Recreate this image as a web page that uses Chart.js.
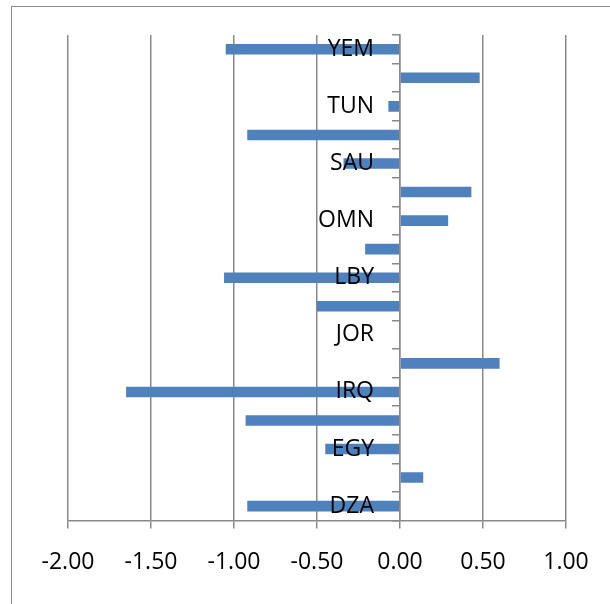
<!DOCTYPE html>
<html>
<head>
<meta charset="utf-8">
<script src="https://cdn.jsdelivr.net/npm/chart.js@4/dist/chart.umd.min.js"></script>
<style>
  html, body { margin: 0; padding: 0; background: #fff; }
  #wrap { position: relative; width: 610px; height: 604px; overflow: hidden; }
  #frame { position: absolute; left: 11px; top: 6px; width: 620px; height: 620px;
           border-left: 1.5px solid #8a8a8a; border-top: 1.5px solid #8a8a8a; }
  canvas { position: absolute; left: 0; top: 0; }
</style>
</head>
<body>
<div id="wrap">
  <div id="frame"></div>
  <canvas id="chart" width="610" height="604"></canvas>
</div>
<script>
// Country codes, listed bottom to top
const countries = ["DZA", "DJI", "EGY", "IRN", "IRQ", "ISR", "JOR", "KWT", "LBY",
                   "MAR", "OMN", "QAT", "SAU", "SYR", "TUN", "UAE", "YEM"];
const values = [-0.92, 0.14, -0.45, -0.93, -1.65, 0.60, 0.00, -0.50, -1.06,
                -0.21, 0.29, 0.43, -0.34, -0.92, -0.07, 0.48, -1.05];
const xTickValues = [-2.0, -1.5, -1.0, -0.5, 0.0, 0.5, 1.0];

const axisGray = '#898989';
const labelFont = { family: 'Open Sans', size: 23 };
const catTickLength = 8;
const catLabelGap = 26;

// The category axis sits on x = 0: tick marks point left from it and
// labels stand clear of the marks.
const leftOfZeroAxis = {
  id: 'leftOfZeroAxis',
  beforeDraw(chart) {
    const scale = chart.scales.y;
    const axisX = chart.scales.x.getPixelForValue(0);
    const grid = scale._gridLineItems || (scale._gridLineItems = scale._computeGridLineItems(chart.chartArea));
    grid.forEach(g => { g.tx1 = axisX; g.tx2 = axisX - catTickLength; });
    scale.getLabelItems().forEach(l => { l.options.translation[0] = axisX - catLabelGap; });
  }
};

new Chart(document.getElementById('chart'), {
  type: 'bar',
  data: {
    labels: countries,
    datasets: [{
      data: values,
      backgroundColor: '#4F81BD',
      borderWidth: 0,
      barPercentage: 0.37,
      categoryPercentage: 1.0
    }]
  },
  options: {
    indexAxis: 'y',
    responsive: false,
    animation: false,
    layout: { padding: { left: 68, right: 44, top: 35, bottom: 8 } },
    plugins: { legend: { display: false }, tooltip: { enabled: false } },
    scales: {
      x: {
        type: 'linear',
        min: xTickValues[0],
        max: xTickValues[xTickValues.length - 1],
        afterBuildTicks: axis => { axis.ticks = xTickValues.map(v => ({ value: v })); },
        ticks: {
          callback: v => Number(v).toFixed(2),
          font: labelFont,
          color: '#000',
          padding: 20,
          maxRotation: 0
        },
        grid: { color: axisGray, lineWidth: 1.5, tickLength: 8 },
        border: { display: true, color: axisGray, width: 1.5 }
      },
      y: {
        type: 'category',
        position: { x: 0 },
        reverse: true,
        grid: { drawOnChartArea: false, drawTicks: true, tickLength: catTickLength,
                color: axisGray, lineWidth: 1.5, offset: true },
        border: { display: true, color: axisGray, width: 1.5, z: 1 },
        ticks: {
          z: 1,
          autoSkip: false,
          callback: (v, i) => (i % 2 === 0 ? countries[i] : ''),
          font: labelFont,
          color: '#000'
        }
      }
    }
  },
  plugins: [leftOfZeroAxis]
});
</script>
</body>
</html>
